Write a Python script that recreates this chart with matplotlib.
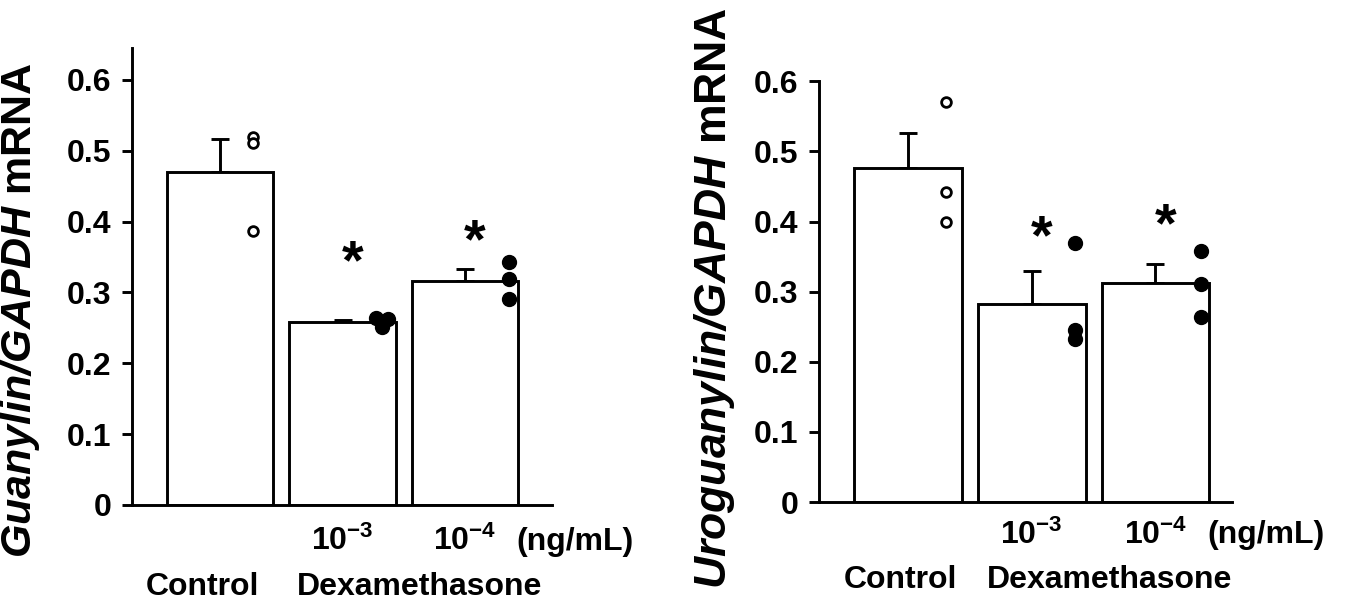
import numpy as np
import matplotlib
matplotlib.use('Agg')
import matplotlib.pyplot as plt

plt.rcParams['font.family'] = ['Liberation Sans', 'DejaVu Sans']
plt.rcParams['font.weight'] = 'bold'
plt.rcParams['mathtext.fontset'] = 'custom'
plt.rcParams['mathtext.rm'] = 'Liberation Sans:bold'
plt.rcParams['mathtext.bf'] = 'Liberation Sans:bold'
plt.rcParams['mathtext.bfit'] = 'Liberation Sans:bold:italic'
plt.rcParams['mathtext.it'] = 'Liberation Sans:bold:italic'

# groups: Control, Dex 10^-3, Dex 10^-4
dose_labels = [r'$\mathbf{10^{-3}}$', r'$\mathbf{10^{-4}}$']

# Guanylin / GAPDH
gua_mean = [0.470, 0.258, 0.316]
gua_sem = [0.047, 0.003, 0.017]
gua_pts = [[0.520, 0.511, 0.386],
           [0.264, 0.263, 0.251],
           [0.343, 0.319, 0.291]]
gua_pts_dx = [[0.27, 0.27, 0.27],
              [0.27, 0.37, 0.32],
              [0.36, 0.36, 0.36]]
gua_star = [None, 0.356, 0.387]

# Uroguanylin / GAPDH
uro_mean = [0.476, 0.283, 0.312]
uro_sem = [0.050, 0.046, 0.028]
uro_pts = [[0.571, 0.442, 0.399],
           [0.369, 0.246, 0.232],
           [0.358, 0.311, 0.264]]
uro_pts_dx = [[0.31, 0.31, 0.31],
              [0.35, 0.35, 0.35],
              [0.37, 0.37, 0.37]]
uro_star = [None, 0.392, 0.409]

fig = plt.figure(figsize=(13.5, 6.01), dpi=100)
ax1 = fig.add_axes([0.0978, 0.160, 0.311, 0.760])
ax2 = fig.add_axes([0.6067, 0.1647, 0.306, 0.700])

lw = 2.1
fs = 23


def draw_panel(ax, mean, sem, pts, dx, stars, ylabel, ylab_fs, ytop, xr,
               lab_off, ctrl_off, ctrl_dx, ylab_pos):
    x = np.arange(3)
    ax.bar(x, mean, width=0.87, color='white', edgecolor='black', linewidth=lw, zorder=2)
    ax.errorbar(x, mean, yerr=[np.zeros(3), sem], fmt='none', ecolor='black',
                elinewidth=lw, capsize=6.5, capthick=lw, zorder=1)
    for i in range(3):
        xs = x[i] + np.array(dx[i])
        if i == 0:
            ax.plot(xs, pts[i], 'o', ms=7, mfc='white', mec='black', mew=2,
                    zorder=3, clip_on=False)
        else:
            ax.plot(xs, pts[i], 'o', ms=10, mfc='black', mec='black',
                    zorder=3, clip_on=False)
        if stars[i] is not None:
            ax.annotate('*', xy=(x[i] + 0.08, stars[i]), xytext=(0, -12),
                        textcoords='offset pixels', ha='center', va='center',
                        fontsize=40, fontweight='bold')
    ax.set_xlim(-0.72, xr)
    ax.set_ylim(0, ytop)
    ax.set_yticks(np.arange(0, 0.61, 0.1))
    ax.set_yticklabels(['0', '0.1', '0.2', '0.3', '0.4', '0.5', '0.6'])
    ax.tick_params(axis='y', length=7, width=lw, labelsize=fs, pad=8)
    ax.set_xticks([])
    for s in ['top', 'right']:
        ax.spines[s].set_visible(False)
    for s in ['left', 'bottom']:
        ax.spines[s].set_linewidth(lw)
    ax.set_ylabel(ylabel, fontsize=ylab_fs, fontweight='bold')
    ax.yaxis.set_label_coords(*ylab_pos)

    for i, lab in enumerate(dose_labels):
        ax.annotate(lab, xy=(i + 1, 0), xycoords=('data', 'axes fraction'),
                    xytext=(0, -lab_off), textcoords='offset pixels',
                    ha='center', va='center', fontsize=fs)
    ax.annotate('(ng/mL)', xy=(2.42, 0), xycoords=('data', 'axes fraction'),
                xytext=(0, -lab_off), textcoords='offset pixels',
                ha='left', va='center', fontsize=fs)
    ax.annotate('Control', xy=(0, 0), xycoords=('data', 'axes fraction'),
                xytext=(ctrl_dx, -ctrl_off), textcoords='offset pixels',
                ha='center', va='center', fontsize=fs)
    ax.annotate('Dexamethasone', xy=(1.5, 0), xycoords=('data', 'axes fraction'),
                xytext=(16, -ctrl_off), textcoords='offset pixels',
                ha='center', va='center', fontsize=fs)


draw_panel(ax1, gua_mean, gua_sem, gua_pts, gua_pts_dx, gua_star,
           r'$\mathbfit{Guanylin/GAPDH}$ mRNA', 31, 0.645, 2.71, 37, 82, -18,
           (-0.214, 0.425))
draw_panel(ax2, uro_mean, uro_sem, uro_pts, uro_pts_dx, uro_star,
           r'$\mathbfit{Uroguanylin/GAPDH}$ mRNA', 32, 0.6, 2.62, 33, 78, -8,
           (-0.199, 0.485))

fig.savefig('out.png', dpi=100)
